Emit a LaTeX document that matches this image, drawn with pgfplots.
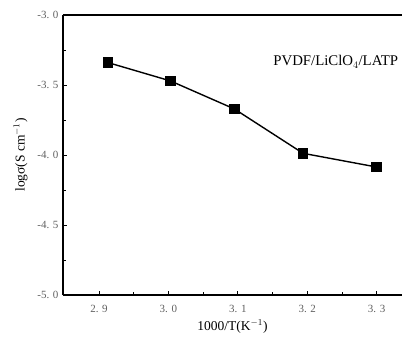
\documentclass[border=0pt]{standalone}
\usepackage{pgfplots}
\pgfplotsset{compat=1.18}
\usepackage{fontspec}
\setmainfont{Liberation Serif}
\definecolor{tickgray}{RGB}{95,95,95}
\begin{document}
\begin{tikzpicture}[x=1pt,y=1pt]
\useasboundingbox (-63,-43) rectangle (339,295);
\begin{axis}[
  at={(0,0)}, anchor=south west,
  scale only axis, width=339pt, height=280pt,
  xmin=2.8481, xmax=3.3365, ymin=-5, ymax=-3,
  axis x line*=box, axis y line*=left,
  axis line style={line width=1.1pt},
  xtick={2.9,3.0,3.1,3.2,3.3},
  xticklabels={2.\,\,9,3.\,\,0,3.\,\,1,3.\,\,2,3.\,\,3},
  minor xtick={2.95,3.05,3.15,3.25},
  ytick={-5,-4.5,-4,-3.5,-3},
  yticklabels={-5.\,\,0,-4.\,\,5,-4.\,\,0,-3.\,\,5,-3.\,\,0},
  minor ytick={-4.75,-4.25,-3.75,-3.25},
  xtick pos=bottom, ytick pos=left,
  tick align=inside,
  major tick length=4pt, minor tick length=3pt,
  tick style={line width=0.9pt, black},
  ticklabel style={font=\fontsize{11}{12}\selectfont, text=tickgray},
  xticklabel style={yshift=-7pt},
  yticklabel style={xshift=-1pt},
  xlabel={1000/T(K$^{-1}$)},
  ylabel={logσ(S cm$^{-1}$)},
  label style={font=\fontsize{13.5}{15}\selectfont},
  xlabel style={yshift=0pt},
  ylabel style={yshift=3pt},
  clip=false,
]
\addplot[black, line width=1.4pt, mark=square*, mark size=4.7pt,
  mark options={solid, fill=black}]
  coordinates {(2.913,-3.34) (3.003,-3.471) (3.095,-3.671) (3.194,-3.988) (3.300,-4.086)};
\node[anchor=center, font=\fontsize{14.8}{16}\selectfont] at (axis cs:3.241,-3.335) {PVDF/LiClO$_4$/LATP};
\end{axis}
\end{tikzpicture}
\end{document}
